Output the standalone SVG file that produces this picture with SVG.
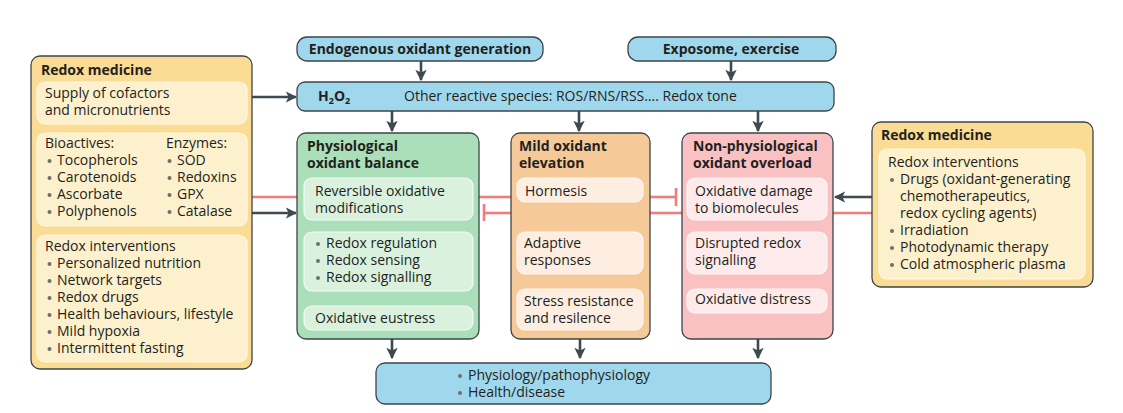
<svg xmlns="http://www.w3.org/2000/svg" width="1123" height="413" viewBox="0 0 1123 413">
<style>
text{font-family:"Open Sans","Noto Sans",sans-serif;font-size:14px;fill:#231f20}
.b{font-weight:bold}
.out{stroke:#3d4549;stroke-width:1.3}
.blue{fill:#9fd8ed}
.yel{fill:#fbdc95}
.yin{fill:#fdf0cc;stroke:#fff8e6;stroke-width:1.2}
.grn{fill:#aadfb9}
.gin{fill:#daf1de;stroke:#f2fbf4;stroke-width:1.2}
.org{fill:#f5c998}
.oin{fill:#fdeee1;stroke:#fff8f2;stroke-width:1.2}
.pnk{fill:#f9c1c2}
.pin{fill:#fdebec;stroke:#fff6f6;stroke-width:1.2}
.arr{stroke:#3d4a4f;stroke-width:2.6;fill:none;marker-end:url(#ah)}
.red{stroke:#f27c7c;stroke-width:2.6;fill:none}
.dot{fill:#6d6e70}
</style>
<defs>
<marker id="ah" viewBox="0 0 10 10" refX="9" refY="5" markerWidth="4.4" markerHeight="4.4" orient="auto" markerUnits="strokeWidth">
<path d="M0,0 L10,5 L0,10 L2.5,5 Z" fill="#3d4a4f"/>
</marker>
</defs>

<g id="connectors">
<line class="arr" x1="421" y1="61" x2="421" y2="80"/>
<line class="arr" x1="731" y1="61" x2="731" y2="80"/>
<line class="arr" x1="392" y1="111" x2="392" y2="131"/>
<line class="arr" x1="579" y1="111" x2="579" y2="131"/>
<line class="arr" x1="758" y1="111" x2="758" y2="131"/>
<line class="arr" x1="252" y1="97" x2="296" y2="97"/>
<line class="arr" x1="252" y1="213" x2="296" y2="213"/>
<line class="arr" x1="872" y1="197" x2="835" y2="197"/>
<line class="arr" x1="392" y1="339" x2="392" y2="358"/>
<line class="arr" x1="580" y1="339" x2="580" y2="358"/>
<line class="arr" x1="758" y1="339" x2="758" y2="358"/>
<line class="red" x1="252" y1="197" x2="297" y2="197"/>
<line class="red" x1="479" y1="197" x2="511" y2="197"/>
<line class="red" x1="484" y1="213" x2="511" y2="213"/>
<line class="red" x1="484" y1="204" x2="484" y2="221"/>
<line class="red" x1="650" y1="197" x2="676" y2="197"/>
<line class="red" x1="676" y1="188" x2="676" y2="206"/>
<line class="red" x1="650" y1="213" x2="682" y2="213"/>
<line class="red" x1="833" y1="213" x2="872" y2="213"/>
</g>

<g id="endogenous">
<rect class="blue out" x="297" y="37" width="246" height="24" rx="10"/>
<text class="b" x="420" y="54" text-anchor="middle">Endogenous oxidant generation</text>
</g>
<g id="exposome">
<rect class="blue out" x="628" y="37" width="208" height="24" rx="10"/>
<text class="b" x="731" y="54" text-anchor="middle">Exposome, exercise</text>
</g>

<g id="h2o2">
<rect class="blue out" x="297" y="82" width="537" height="29" rx="8"/>
<text class="b" x="318" y="101">H<tspan font-size="9" dy="3">2</tspan><tspan dy="-3">O</tspan><tspan font-size="9" dy="3">2</tspan></text>
<text x="404" y="101" font-size="14.8">Other reactive species: ROS/RNS/RSS…. Redox tone</text>
</g>

<g id="redox-medicine-left">
<rect class="yel out" x="31" y="56" width="221" height="313" rx="9"/>
<text class="b" x="41" y="75">Redox medicine</text>
<rect class="yin" x="37" y="82" width="210" height="42" rx="8"/>
<text x="45" y="98">Supply of cofactors<tspan x="45" dy="17">and micronutrients</tspan></text>
<rect class="yin" x="37" y="133" width="210" height="93" rx="8"/>
<g class="dot">
<circle cx="49.5" cy="161" r="2"/><circle cx="49.5" cy="178" r="2"/><circle cx="49.5" cy="195" r="2"/><circle cx="49.5" cy="212" r="2"/>
<circle cx="169.5" cy="161" r="2"/><circle cx="169.5" cy="178" r="2"/><circle cx="169.5" cy="195" r="2"/><circle cx="169.5" cy="212" r="2"/>
</g>
<text x="45" y="148">Bioactives:<tspan x="57" dy="17">Tocopherols</tspan><tspan x="57" dy="17">Carotenoids</tspan><tspan x="57" dy="17">Ascorbate</tspan><tspan x="57" dy="17">Polyphenols</tspan></text>
<text x="166" y="148">Enzymes:<tspan x="177" dy="17">SOD</tspan><tspan x="177" dy="17">Redoxins</tspan><tspan x="177" dy="17">GPX</tspan><tspan x="177" dy="17">Catalase</tspan></text>
<rect class="yin" x="37" y="235" width="210" height="127" rx="8"/>
<g class="dot">
<circle cx="49.5" cy="264" r="2"/><circle cx="49.5" cy="281" r="2"/><circle cx="49.5" cy="298" r="2"/><circle cx="49.5" cy="315" r="2"/><circle cx="49.5" cy="332" r="2"/><circle cx="49.5" cy="349" r="2"/>
</g>
<text x="45" y="251">Redox interventions<tspan x="57" dy="17">Personalized nutrition</tspan><tspan x="57" dy="17">Network targets</tspan><tspan x="57" dy="17">Redox drugs</tspan><tspan x="57" dy="17">Health behaviours, lifestyle</tspan><tspan x="57" dy="17">Mild hypoxia</tspan><tspan x="57" dy="17">Intermittent fasting</tspan></text>
</g>

<g id="physiological">
<rect class="grn out" x="297" y="133" width="182" height="206" rx="9"/>
<text class="b" x="307" y="151">Physiological<tspan x="307" dy="17">oxidant balance</tspan></text>
<rect class="gin" x="304" y="178" width="169" height="42" rx="8"/>
<text x="315" y="196">Reversible oxidative<tspan x="315" dy="17">modifications</tspan></text>
<rect class="gin" x="304" y="232" width="169" height="59" rx="8"/>
<g class="dot"><circle cx="318" cy="244" r="2"/><circle cx="318" cy="261" r="2"/><circle cx="318" cy="278" r="2"/></g>
<text x="326" y="248">Redox regulation<tspan x="326" dy="17">Redox sensing</tspan><tspan x="326" dy="17">Redox signalling</tspan></text>
<rect class="gin" x="304" y="306" width="169" height="24" rx="8"/>
<text x="315" y="323">Oxidative eustress</text>
</g>

<g id="mild">
<rect class="org out" x="511" y="133" width="139" height="206" rx="9"/>
<text class="b" x="519" y="151">Mild oxidant<tspan x="519" dy="17">elevation</tspan></text>
<rect class="oin" x="517" y="178" width="126" height="24" rx="8"/>
<text x="525" y="196">Hormesis</text>
<rect class="oin" x="517" y="232" width="126" height="42" rx="8"/>
<text x="524" y="248">Adaptive<tspan x="524" dy="17">responses</tspan></text>
<rect class="oin" x="517" y="289" width="126" height="41" rx="8"/>
<text x="524" y="306">Stress resistance<tspan x="524" dy="17">and resilence</tspan></text>
</g>

<g id="non-physiological">
<rect class="pnk out" x="682" y="133" width="151" height="206" rx="9"/>
<text class="b" x="693" y="151">Non-physiological<tspan x="693" dy="17">oxidant overload</tspan></text>
<rect class="pin" x="687" y="178" width="140" height="42" rx="8"/>
<text x="695" y="196">Oxidative damage<tspan x="695" dy="17">to biomolecules</tspan></text>
<rect class="pin" x="687" y="232" width="140" height="42" rx="8"/>
<text x="695" y="248">Disrupted redox<tspan x="695" dy="17">signalling</tspan></text>
<rect class="pin" x="687" y="289" width="140" height="24" rx="8"/>
<text x="695" y="304">Oxidative distress</text>
</g>

<g id="redox-medicine-right">
<rect class="yel out" x="872" y="122" width="221" height="165" rx="9"/>
<text class="b" x="881" y="140">Redox medicine</text>
<rect class="yin" x="879" y="149" width="206" height="130" rx="8"/>
<g class="dot"><circle cx="892" cy="180" r="2"/><circle cx="892" cy="231" r="2"/><circle cx="892" cy="248" r="2"/><circle cx="892" cy="265" r="2"/></g>
<text x="888" y="167">Redox interventions<tspan x="900" dy="17">Drugs (oxidant-generating</tspan><tspan x="900" dy="17">chemotherapeutics,</tspan><tspan x="900" dy="17">redox cycling agents)</tspan><tspan x="900" dy="17">Irradiation</tspan><tspan x="900" dy="17">Photodynamic therapy</tspan><tspan x="900" dy="17">Cold atmospheric plasma</tspan></text>
</g>

<g id="outcome">
<rect class="blue out" x="376" y="363" width="395" height="41" rx="9"/>
<g class="dot"><circle cx="460" cy="376" r="2"/><circle cx="460" cy="393" r="2"/></g>
<text x="468" y="380">Physiology/pathophysiology<tspan x="468" dy="17">Health/disease</tspan></text>
</g>
</svg>
